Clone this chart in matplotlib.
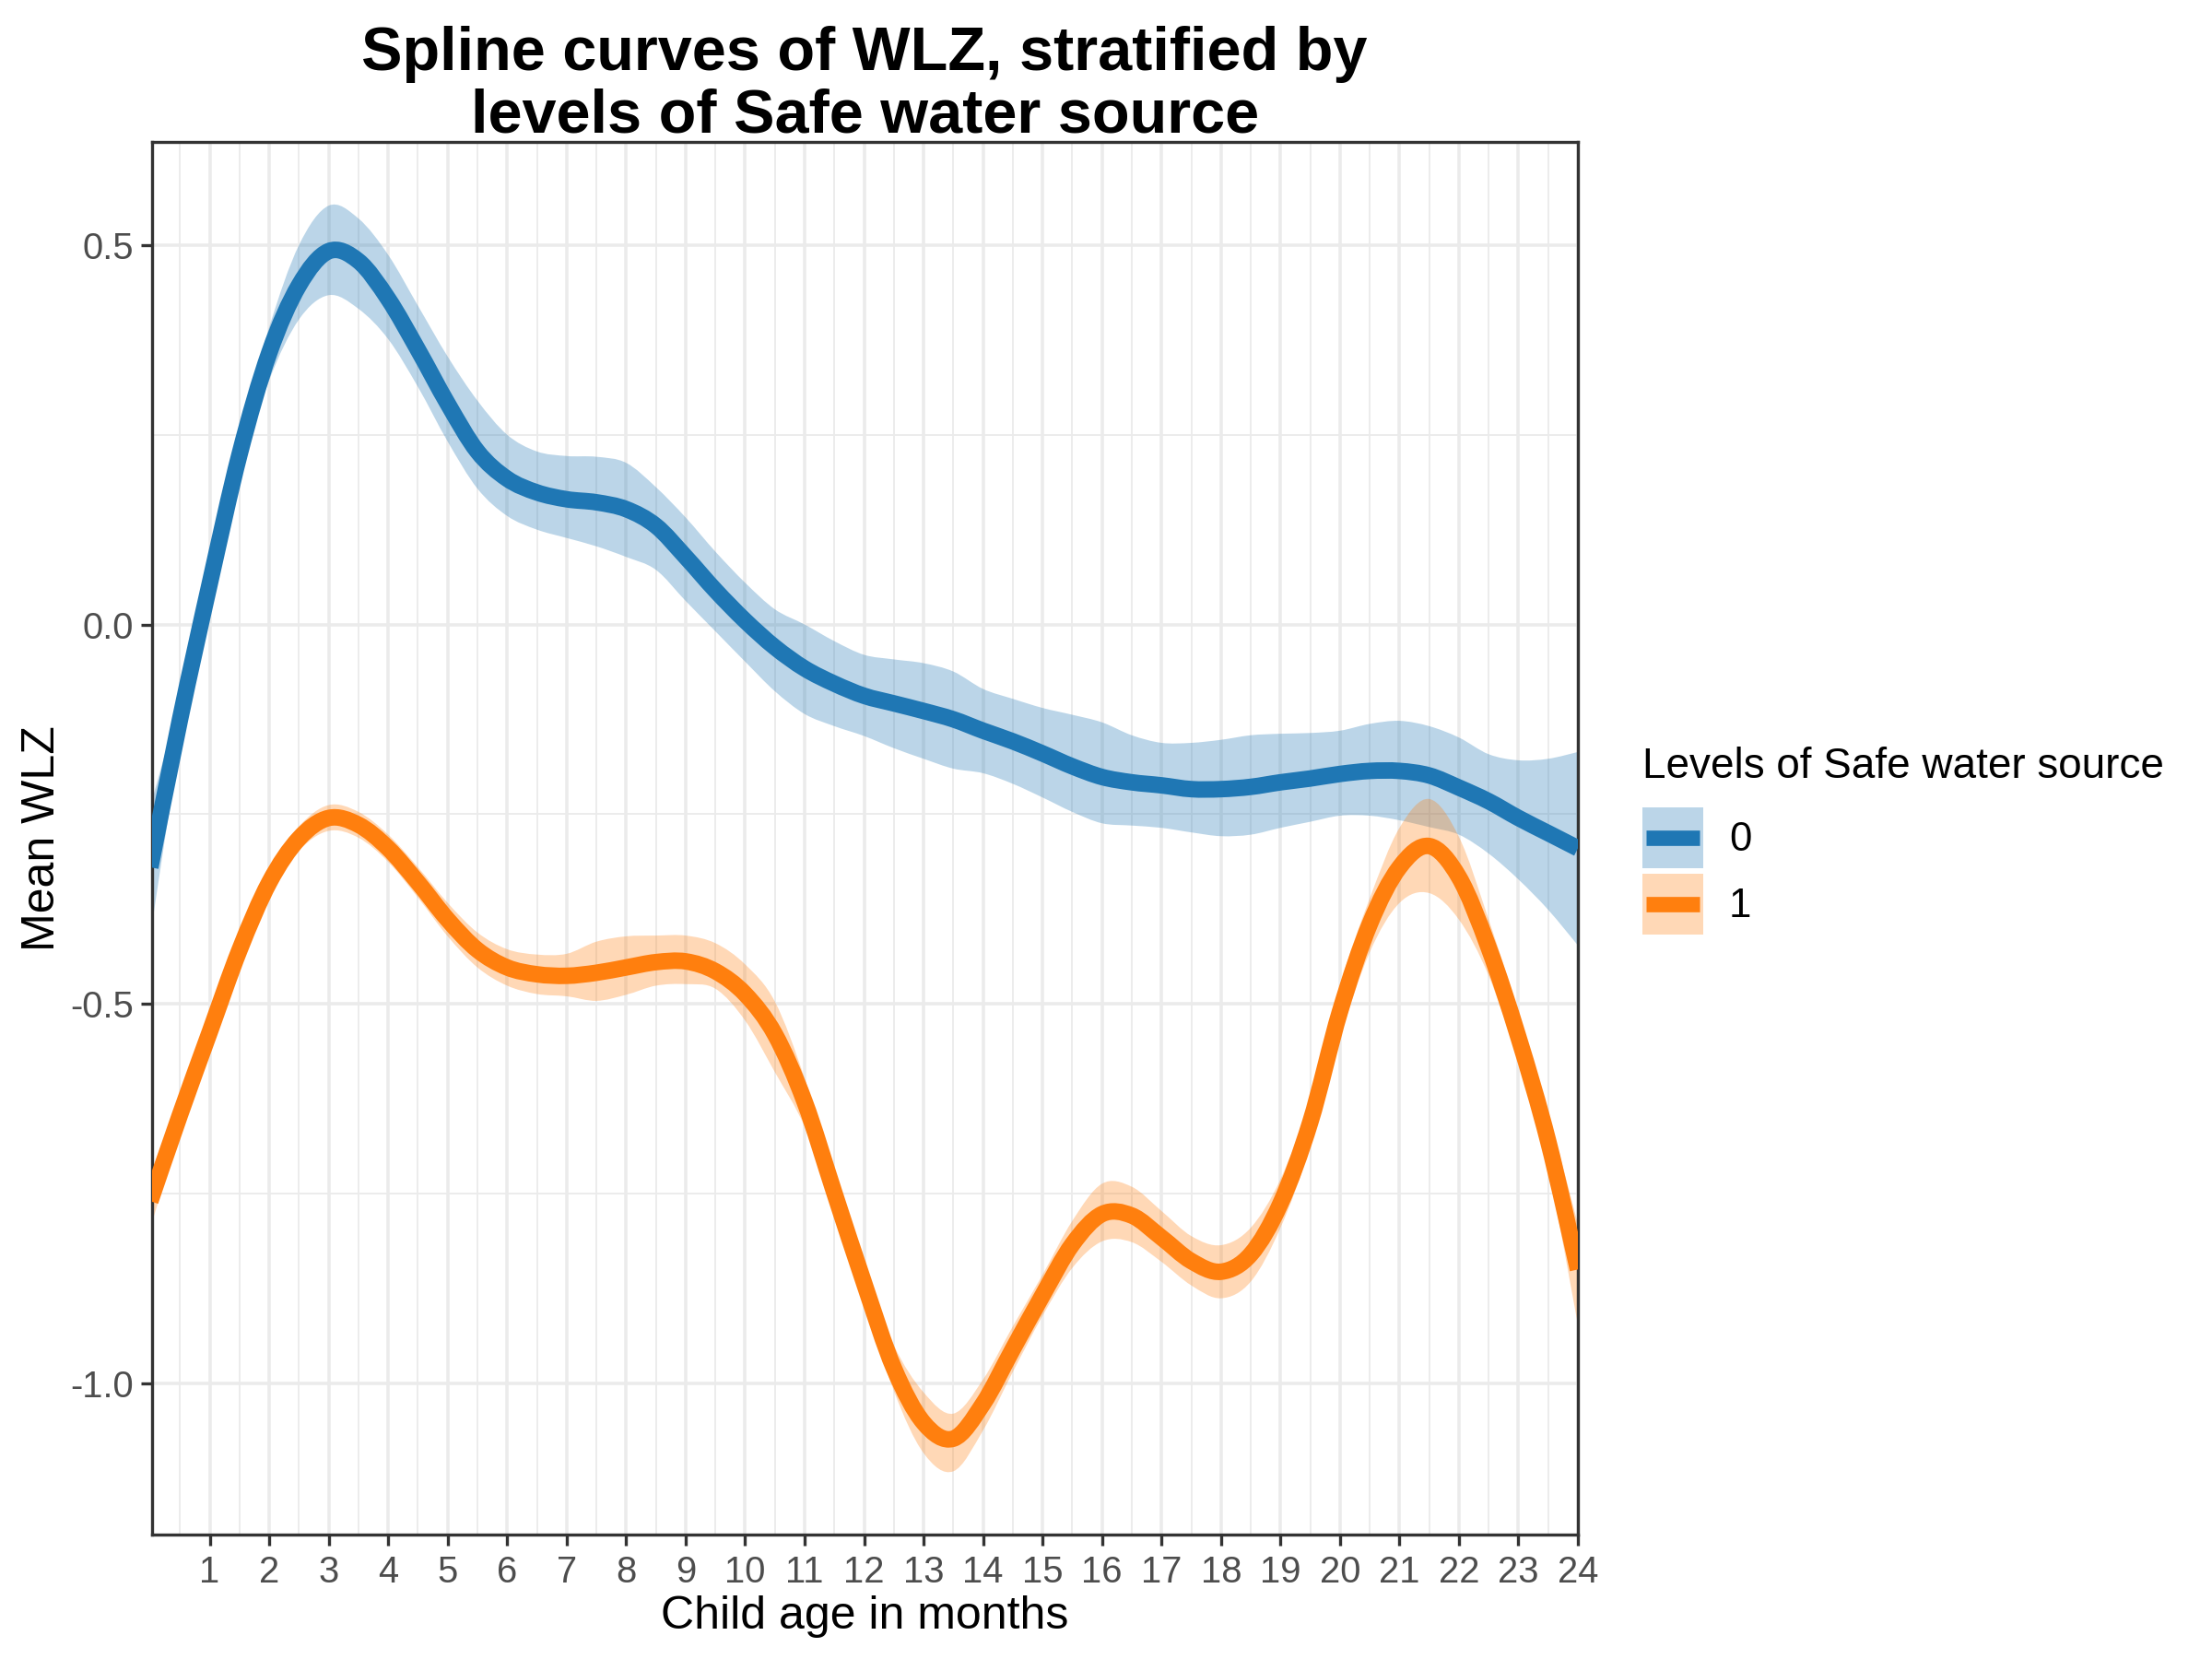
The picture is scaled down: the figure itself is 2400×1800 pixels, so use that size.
import matplotlib
matplotlib.use("Agg")
import matplotlib.pyplot as plt
from matplotlib.patches import PathPatch, Rectangle
from matplotlib.path import Path
from matplotlib.lines import Line2D
from matplotlib.legend_handler import HandlerBase

plt.rcParams['font.family'] = ['Liberation Sans', 'DejaVu Sans']

# child age (months) at which the curves were read
months = [0, 0.5, 1, 1.5, 2, 2.5, 3, 3.5, 4, 4.5, 5, 5.5, 6, 6.5, 7, 7.5, 8, 8.5,
          9, 9.5, 10, 10.5, 11, 11.5, 12, 12.5, 13, 13.5, 14, 14.5, 15, 15.5, 16,
          16.5, 17, 17.5, 18, 18.5, 19, 19.5, 20, 20.5, 21, 21.5, 22, 22.5, 23,
          23.5, 24]

# level 0 (no safe water source)
wlz_0 = [-0.320, -0.125, 0.054, 0.224, 0.358, 0.447, 0.492, 0.479, 0.429, 0.362,
         0.291, 0.228, 0.192, 0.174, 0.165, 0.161, 0.152, 0.130, 0.089, 0.045,
         0.005, -0.030, -0.058, -0.078, -0.094, -0.104, -0.114, -0.125, -0.140,
         -0.154, -0.170, -0.187, -0.201, -0.208, -0.212, -0.217, -0.217, -0.214,
         -0.208, -0.203, -0.197, -0.193, -0.193, -0.199, -0.215, -0.233, -0.255,
         -0.275, -0.295]
lower_0 = [-0.410, -0.160, 0.025, 0.197, 0.322, 0.402, 0.434, 0.416, 0.376, 0.313,
           0.241, 0.179, 0.143, 0.125, 0.114, 0.103, 0.089, 0.072, 0.031, -0.009,
           -0.049, -0.088, -0.118, -0.134, -0.147, -0.163, -0.177, -0.190, -0.196,
           -0.210, -0.228, -0.247, -0.262, -0.265, -0.268, -0.274, -0.279, -0.277,
           -0.268, -0.260, -0.252, -0.252, -0.258, -0.267, -0.277, -0.302, -0.336,
           -0.376, -0.423]
upper_0 = [-0.240, -0.095, 0.085, 0.250, 0.392, 0.500, 0.552, 0.535, 0.487, 0.420,
           0.353, 0.295, 0.250, 0.228, 0.222, 0.221, 0.213, 0.181, 0.141, 0.096,
           0.055, 0.020, 0.000, -0.022, -0.040, -0.046, -0.051, -0.062, -0.085,
           -0.098, -0.110, -0.119, -0.129, -0.146, -0.156, -0.156, -0.152, -0.146,
           -0.144, -0.143, -0.140, -0.131, -0.127, -0.134, -0.149, -0.171, -0.179,
           -0.177, -0.168]

# level 1 (safe water source)
wlz_1 = [-0.760, -0.646, -0.537, -0.429, -0.340, -0.282, -0.255, -0.264, -0.295,
         -0.340, -0.389, -0.429, -0.452, -0.461, -0.463, -0.459, -0.452, -0.445,
         -0.444, -0.457, -0.487, -0.540, -0.629, -0.749, -0.868, -0.980, -1.052,
         -1.073, -1.027, -0.955, -0.884, -0.817, -0.777, -0.779, -0.808, -0.839,
         -0.853, -0.830, -0.763, -0.656, -0.510, -0.395, -0.320, -0.292, -0.333,
         -0.426, -0.544, -0.681, -0.850]
lower_1 = [-0.795, -0.671, -0.557, -0.447, -0.356, -0.298, -0.272, -0.281, -0.313,
           -0.360, -0.411, -0.452, -0.476, -0.487, -0.490, -0.496, -0.488, -0.476,
           -0.474, -0.480, -0.522, -0.590, -0.662, -0.772, -0.888, -1.010, -1.092,
           -1.116, -1.062, -0.985, -0.911, -0.848, -0.813, -0.814, -0.840, -0.871,
           -0.888, -0.866, -0.795, -0.688, -0.545, -0.432, -0.367, -0.354, -0.389,
           -0.463, -0.577, -0.718, -0.923]
upper_1 = [-0.725, -0.621, -0.517, -0.411, -0.324, -0.266, -0.238, -0.247, -0.277,
           -0.320, -0.367, -0.406, -0.428, -0.435, -0.434, -0.418, -0.411, -0.410,
           -0.410, -0.420, -0.448, -0.497, -0.598, -0.727, -0.848, -0.950, -1.012,
           -1.040, -0.995, -0.925, -0.857, -0.786, -0.737, -0.741, -0.773, -0.806,
           -0.818, -0.795, -0.731, -0.625, -0.475, -0.361, -0.268, -0.230, -0.280,
           -0.389, -0.511, -0.644, -0.790]

levels = ['0', '1']
colors = ['#1F77B4', '#FF7F0E']
x_ticks = list(range(1, 25))
y_ticks = [-1.0, -0.5, 0.0, 0.5]
y_tick_labels = ['-1.0', '-0.5', '0.0', '0.5']


def curve_path(xs, ys):
    # cubic bezier through the read points so the drawn line is smooth
    pts = list(zip(xs, ys))
    n = len(pts)
    verts = [pts[0]]
    codes = [Path.MOVETO]
    for i in range(n - 1):
        p0 = pts[i - 1] if i > 0 else pts[i]
        p1, p2 = pts[i], pts[i + 1]
        p3 = pts[i + 2] if i + 2 < n else pts[i + 1]
        c1 = (p1[0] + (p2[0] - p0[0]) / 6, p1[1] + (p2[1] - p0[1]) / 6)
        c2 = (p2[0] - (p3[0] - p1[0]) / 6, p2[1] - (p3[1] - p1[1]) / 6)
        verts += [c1, c2, p2]
        codes += [Path.CURVE4] * 3
    return verts, codes


def band_path(xs, lo, hi):
    v_hi, c_hi = curve_path(xs, hi)
    v_lo, c_lo = curve_path(xs[::-1], lo[::-1])
    c_lo[0] = Path.LINETO
    return Path(v_hi + v_lo + [v_hi[0]], c_hi + c_lo + [Path.CLOSEPOLY])


class RibbonKey(HandlerBase):
    # ggplot-like key: shaded square with the line through its middle
    def create_artists(self, legend, orig_handle, xdescent, ydescent, width,
                       height, fontsize, trans):
        x0, y0 = -xdescent, -ydescent
        col = orig_handle.get_color()
        box = Rectangle((x0, y0), width, height, facecolor=col, alpha=0.3,
                        linewidth=0, transform=trans)
        ln = Line2D([x0 + 0.06 * width, x0 + 0.94 * width],
                    [y0 + height / 2, y0 + height / 2], color=col,
                    lw=orig_handle.get_linewidth(), solid_capstyle='butt',
                    transform=trans)
        return [box, ln]


fig = plt.figure(figsize=(8, 6), dpi=300)
ax = fig.add_axes([0.06875, 0.075, 0.6446, 0.8392])

series = [(wlz_0, lower_0, upper_0), (wlz_1, lower_1, upper_1)]
handles = []
for (mean, lo, hi), col in zip(series, colors):
    ax.add_patch(PathPatch(band_path(months, lo, hi), facecolor=col, alpha=0.3,
                           linewidth=0, zorder=2))
for (mean, lo, hi), col in zip(series, colors):
    v, c = curve_path(months, mean)
    ax.add_patch(PathPatch(Path(v, c), fill=False, edgecolor=col, lw=4.3,
                           capstyle='butt', joinstyle='round', zorder=3))
    handles.append(Line2D([], [], color=col, lw=4.0))

# axis range like ggplot: 5% padding on y, none on x
all_lo = min(lower_0 + lower_1)
all_hi = max(upper_0 + upper_1)
pad = 0.05 * (all_hi - all_lo)
ax.set_ylim(all_lo - pad, all_hi + pad)
ax.set_xlim(0.03, 24)

ax.set_xticks(x_ticks)
ax.set_xticks([m + 0.5 for m in range(0, 24)], minor=True)
ax.set_yticks(y_ticks)
ax.set_yticklabels(y_tick_labels)
ax.set_yticks([-0.75, -0.25, 0.25], minor=True)

ax.grid(which='major', color='#EBEBEB', lw=0.85, zorder=0)
ax.grid(which='minor', color='#EBEBEB', lw=0.45, zorder=0)
ax.set_axisbelow(True)

ax.tick_params(which='major', length=2.8, width=0.8, color='#333333',
               labelsize=9.6, labelcolor='#4D4D4D', pad=2.4)
ax.tick_params(axis='y', which='major', pad=2.0)
ax.tick_params(which='minor', length=0)
for sp in ax.spines.values():
    sp.set_color('#333333')
    sp.set_linewidth(0.8)

ax.set_xlabel('Child age in months', fontsize=12, labelpad=1.5)
ax.set_ylabel('Mean WLZ', fontsize=12, labelpad=1.8)

fig.text(0.3909, 0.9844, 'Spline curves of WLZ, stratified by\nlevels of Safe water source',
         ha='center', va='top', fontsize=16, fontweight='bold', linespacing=1.12)

leg = fig.legend(handles=handles, labels=levels, title='Levels of Safe water source',
                 handler_map={Line2D: RibbonKey()},
                 loc='upper left', bbox_to_anchor=(0.7425, 0.55), frameon=False,
                 fontsize=10.5, title_fontsize=11, alignment='left',
                 handlelength=1.5, handleheight=1.94, labelspacing=0.14,
                 handletextpad=0.65, borderpad=0, borderaxespad=0)
# a bit more room between the legend title and the keys
leg._legend_box.sep = 5.2

fig.savefig('out.png', dpi=300, facecolor='white')
